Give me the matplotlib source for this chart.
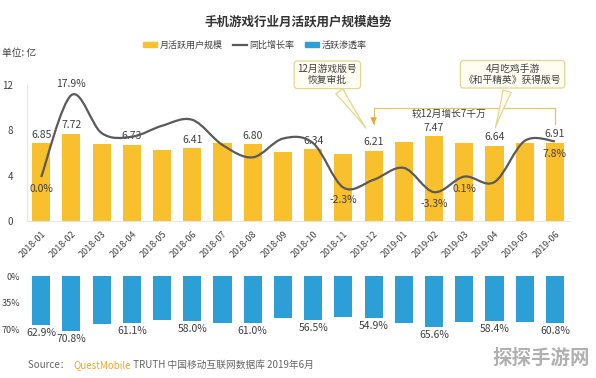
import numpy as np
import matplotlib
matplotlib.use('Agg')
import matplotlib.pyplot as plt
from matplotlib.path import Path
from matplotlib.patches import PathPatch, Patch
from matplotlib.lines import Line2D

plt.rcParams['font.family'] = ['Noto Sans CJK SC', 'DejaVu Sans']

months = ['2018-01', '2018-02', '2018-03', '2018-04', '2018-05', '2018-06',
          '2018-07', '2018-08', '2018-09', '2018-10', '2018-11', '2018-12',
          '2019-01', '2019-02', '2019-03', '2019-04', '2019-05', '2019-06']
mau = [6.85, 7.72, 6.82, 6.73, 6.25, 6.41, 6.85, 6.80, 6.05,
       6.34, 5.95, 6.21, 7.00, 7.47, 6.88, 6.64, 6.90, 6.91]
growth = [0.0, 17.9, 9.6, 8.8, 11.2, 12.5, 7.0, 4.3, 8.4,
          7.4, -2.3, -0.6, 2.0, -3.3, 0.1, -1.1, 7.9, 7.8]
penetration = [62.9, 70.8, 62.5, 61.1, 57.5, 58.0, 61.5, 61.0, 54.2,
               56.5, 53.0, 54.9, 61.5, 65.6, 59.6, 58.4, 59.6, 60.8]

mau_labeled = [0, 1, 3, 5, 7, 9, 11, 13, 15, 17]
growth_labeled = [0, 1, 10, 13, 14, 17]
pen_labeled = [0, 1, 3, 5, 7, 9, 11, 13, 15, 17]

yellow = '#F9C02E'
blue = '#2C9FD6'
gray_line = '#5A5A5A'
txt = '#404040'

W, H = 596, 378
fig = plt.figure(figsize=(W / 100, H / 100), dpi=100)
x = np.arange(len(months))

# top panel: monthly active users
ax = fig.add_axes([27 / W, 1 - 221 / H, 543 / W, 136 / H])
ax.bar(x, mau, width=0.6, color=yellow)
ax.set_xlim(-0.47, 17.5)
ax.set_ylim(0, 12)
ax.set_yticks([0, 4, 8, 12])
ax.tick_params(axis='y', length=0, pad=10, labelsize=7, labelcolor=txt)
ax.set_xticks(x)
ax.set_xticklabels(months, rotation=45, ha='right', va='top',
                   rotation_mode='anchor', fontsize=6.5, color=txt)
ax.tick_params(axis='x', length=0, pad=6)
for s in ['top', 'right']:
    ax.spines[s].set_visible(False)
for s in ['left', 'bottom']:
    ax.spines[s].set_color('#E6E6E6')
    ax.spines[s].set_linewidth(0.8)
for i in mau_labeled:
    ax.text(x[i], mau[i] + 0.3, f'{mau[i]:.2f}', ha='center', va='bottom',
            fontsize=7.5, color=txt)

# growth rate on a hidden twin axis, drawn as a smooth curve
ax2 = ax.twinx()
ax2.set_ylim(-9.6, 20.1)
ax2.axis('off')
pts = np.column_stack([x, growth]).astype(float)
ext = np.vstack([pts[0], pts, pts[-1]])
verts = [tuple(pts[0])]
codes = [Path.MOVETO]
for i in range(len(pts) - 1):
    p0, p1, p2, p3 = ext[i], ext[i + 1], ext[i + 2], ext[i + 3]
    c1 = p1 + (p2 - p0) / 6
    c2 = p2 - (p3 - p1) / 6
    verts += [tuple(c1), tuple(c2), tuple(p2)]
    codes += [Path.CURVE4] * 3
ax2.add_patch(PathPatch(Path(verts, codes), fc='none', ec=gray_line, lw=1.6))
for i in growth_labeled:
    if i == 1:
        ax2.text(x[i], growth[i] + 1.4, f'{growth[i]:.1f}%', ha='center',
                 va='bottom', fontsize=7.5, color=txt)
    else:
        ax2.text(x[i], growth[i] - 1.6, f'{growth[i]:.1f}%', ha='center',
                 va='top', fontsize=7.5, color=txt)

# callouts
box = dict(boxstyle='round,pad=0.35', fc='#FFFDF2', ec='#E3D690', lw=0.9)
wedge = dict(arrowstyle='wedge,tail_width=0.9,shrink_factor=0.4',
             fc='#FFFDF2', ec='#E3D690', lw=0.9)
ax.annotate('12月游戏版号\n恢复审批', xy=(10.8, 8.0), xytext=(9.47, 12.9),
            ha='center', va='center', fontsize=7, color=txt, linespacing=1.1,
            bbox=box, arrowprops=wedge, annotation_clip=False)
ax.annotate('4月吃鸡手游\n《和平精英》获得版号', xy=(15.0, 8.0), xytext=(15.6, 12.95),
            ha='center', va='center', fontsize=7, color=txt, linespacing=1.1,
            bbox=box, arrowprops=wedge, annotation_clip=False)

# bracket
bc = '#E2C76A'
ax.plot([11, 11, 17, 17], [8.6, 10.0, 10.0, 8.55], color=bc, lw=0.9, clip_on=False)
ax.annotate('', xy=(11, 8.3), xytext=(11, 8.9),
            arrowprops=dict(arrowstyle='-|>,head_width=0.18,head_length=0.35',
                            color='#E8A93A', lw=0.9))
ax.text(13.5, 9.85, '较12月增长7千万', ha='center', va='top', fontsize=7, color=txt)

# bottom panel: penetration
axb = fig.add_axes([27 / W, 1 - 334 / H, 543 / W, 58 / H])
axb.bar(x, [-v for v in penetration], width=0.6, color=blue)
axb.set_xlim(-0.47, 17.5)
axb.set_ylim(-75.2, 0)
axb.set_yticks([0, -35, -70])
axb.set_yticklabels(['0%', '35%', '70%'])
axb.tick_params(axis='y', length=0, pad=5, labelsize=6.5, labelcolor=txt)
axb.set_xticks([])
for s in axb.spines.values():
    s.set_visible(False)
for i in pen_labeled:
    axb.text(x[i], -penetration[i] - 4, f'{penetration[i]:.1f}%', ha='center',
             va='top', fontsize=7.5, color=txt, clip_on=False)

# title, legend, unit
fig.text(298 / W, 1 - 22 / H, '手机游戏行业月活跃用户规模趋势', ha='center',
         va='center', fontsize=9, fontweight='bold', color='#333333')
handles = [Patch(color=yellow), Line2D([], [], color=gray_line, lw=1.6),
           Patch(color=blue)]
fig.legend(handles, ['月活跃用户规模', '同比增长率', '活跃渗透率'],
           loc='center', bbox_to_anchor=(255 / W, 1 - 45 / H), ncol=3,
           frameon=False, fontsize=6.5, handlelength=1.5, handleheight=0.5,
           handletextpad=0.3, columnspacing=1.2, labelcolor=txt)
fig.text(2 / W, 1 - 53 / H, '单位: 亿', ha='left', va='center', fontsize=7,
         color=txt)

# source line
renderer = fig.canvas.get_renderer()
xpos = 28
for part, col in [('Source：  ', '#666666'), ('QuestMobile', '#F0A530'),
                  (' TRUTH 中国移动互联网数据库 2019年6月', '#666666')]:
    t = fig.text(xpos / W, 1 - 365 / H, part, ha='left', va='center',
                 fontsize=7, color=col)
    xpos += t.get_window_extent(renderer).width

fig.text(590 / W, 1 - 358 / H, '探探手游网', ha='right', va='center',
         fontsize=14, fontweight='bold', color='#A8A8A8', alpha=0.9)

fig.savefig('out.png', dpi=100)
